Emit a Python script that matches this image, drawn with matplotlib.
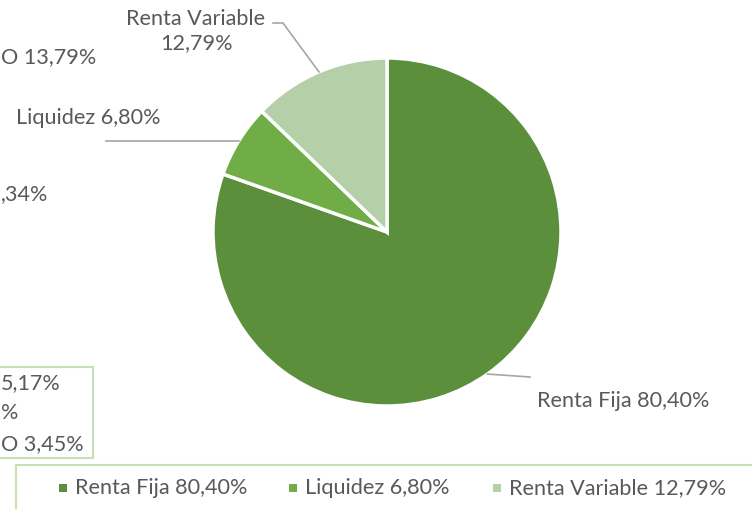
import matplotlib.pyplot as plt
from matplotlib.patches import Rectangle
import numpy as np

# --- data ---
categories = ["Renta Fija", "Liquidez", "Renta Variable"]
values = [80.40, 6.80, 12.79]
colors = ["#5B8F3B", "#70AD47", "#B5CFA8"]
# pieces of a neighbouring chart cut off at the left edge
stray_left = ["O 13,79%", ",34%"]
stray_box = ["5,17%", "%", "O 3,45%"]

W, H = 752, 509
TXT = "#595959"
FONT = "Lato"
FS = 15.6

def pct(v):
    return f"{v:.2f}".replace(".", ",") + "%"

fig = plt.figure(figsize=(W / 100, H / 100), dpi=100)
fig.patch.set_facecolor("white")

def px(x, y):
    # pixel (from top-left) -> figure fraction
    return x / W, 1 - y / H

# pie axes: centre (387, 232), radius 174 px
cx, cy, r = 387, 232, 174
ax = fig.add_axes([(cx - r) / W, 1 - (cy + r) / H, 2 * r / W, 2 * r / H])
wedges, _ = ax.pie(values, colors=colors, startangle=90, counterclock=False,
                   radius=1, wedgeprops=dict(edgecolor="white", linewidth=2.5))
ax.set_xlim(-1, 1)
ax.set_ylim(-1, 1)
ax.set_aspect("equal")
ax.axis("off")

def d(x, y):
    # pixel -> pie data coords
    return (x - cx) / r, (cy - y) / r

def edge(i):
    w = wedges[i]
    a = np.deg2rad((w.theta1 + w.theta2) / 2)
    return np.cos(a), np.sin(a)

lc = "#A6A6A6"
# Renta Fija
ex, ey = edge(0)
p = d(530, 377)
ax.plot([ex, p[0]], [ey, p[1]], color=lc, lw=1.2, clip_on=False)
fig.text(*px(623, 401), f"{categories[0]} {pct(values[0])}", ha="center", va="center",
         color=TXT, fontsize=FS, family=FONT)
# Liquidez
ex, ey = edge(1)
p = d(106, 140)
ax.plot([ex, p[0]], [ey, ey], color=lc, lw=1.2, clip_on=False)
fig.text(*px(88, 118), f"{categories[1]} {pct(values[1])}", ha="center", va="center",
         color=TXT, fontsize=FS, family=FONT)
# Renta Variable
ex, ey = edge(2)
p1 = d(273, 23)
p2 = d(283, 23)
ax.plot([p1[0], p2[0], ex], [p1[1], p2[1], ey], color=lc, lw=1.2, clip_on=False)
fig.text(*px(196, 31), f"{categories[2]}\n{pct(values[2])}", ha="center", va="center",
         color=TXT, fontsize=FS, family=FONT, linespacing=1.25)

# stray text from the cut-off chart (kept fully inside the left edge)
fig.text(*px(1, 57), stray_left[0], ha="left", va="center", color=TXT, fontsize=FS, family=FONT)
fig.text(*px(1, 194), stray_left[1], ha="left", va="center", color=TXT, fontsize=FS, family=FONT)
box_y = [383, 413, 444]
for t, yy in zip(stray_box, box_y):
    fig.text(*px(1, yy), t, ha="left", va="center", color=TXT, fontsize=FS, family=FONT)
fig.add_artist(Rectangle(px(-5, 458), 98 / W, 91 / H, transform=fig.transFigure,
                         fill=False, edgecolor="#C5E0B4", lw=1.5))

# legend box
fig.add_artist(Rectangle(px(16, 520), 760 / W, 55 / H, transform=fig.transFigure,
                         fill=False, edgecolor="#C5E0B4", lw=1.5))
leg_x = [63, 293, 497]
for i, lx in enumerate(leg_x):
    fig.add_artist(Rectangle(px(lx - 4, 492), 8 / W, 8 / H, transform=fig.transFigure,
                             facecolor=colors[i], edgecolor="none"))
    fig.text(*px(lx + 12, 488), f"{categories[i]} {pct(values[i])}", ha="left", va="center",
             color=TXT, fontsize=FS, family=FONT)

fig.savefig("out.png", dpi=100, facecolor="white")
